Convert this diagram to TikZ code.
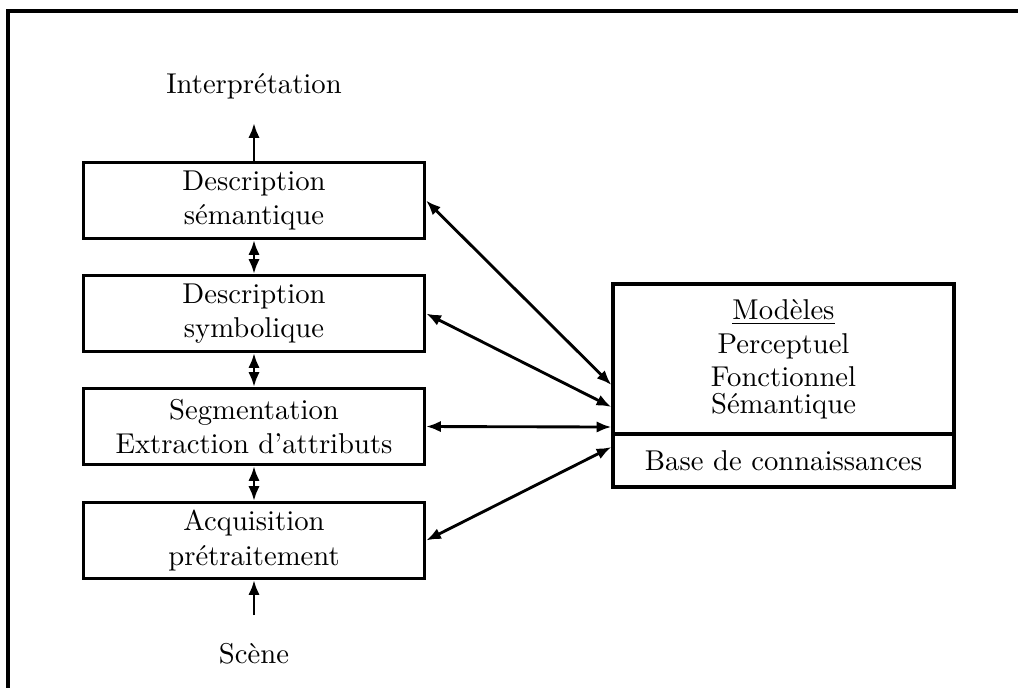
\documentclass[tikz,border=0pt]{standalone}
\usepackage{fontspec}
\usepackage{tikz}
\usetikzlibrary{arrows.meta, positioning, calc}

\tikzset{
  etage/.style={draw, line width=1.1pt, minimum width=119pt, minimum height=26.5pt,
                align=center, inner sep=0pt},
  fleche/.style={line width=1pt, -{Latex[length=5.2pt,width=4pt]}},
  double/.style={line width=1pt, {Latex[length=5.2pt,width=4pt]}-{Latex[length=5.2pt,width=4pt]}}
}

\begin{document}
\begin{tikzpicture}[x=0.349pt, y=-0.349pt]
				\useasboundingbox (0,0) rectangle (1018,687);
				\clip (0,0) rectangle (1018,687);

				% Cadre
				\draw[line width=1.1pt] (8,11) rectangle (1060,740);

				% Pile de traitement
				\node[etage] (sem) at (254,200.5) {Description\\sémantique};
				\node[etage] (sym) at (254,313.5) {Description\\symbolique};
				\node[etage] (seg) at (254,426.5) {Segmentation\\Extraction d'attributs};
				\node[etage] (acq) at (254,540.5) {Acquisition\\prétraitement};

				% Entree / sortie
				\node[anchor=base] (interp) at (254,93) {Interprétation};
				\node[anchor=base] (scene) at (254,663) {Scène};
				\coordinate (haut) at (254,123);
				\coordinate (bas) at (254,615);
				\draw[fleche] (sem.north) -- (haut);
				\draw[fleche] (bas) -- (acq.south);

				% Liaisons verticales
				\draw[double] (sem.south) -- (sym.north);
				\draw[double] (sym.south) -- (seg.north);
				\draw[double] (seg.south) -- (acq.north);

				% Modeles et base
				\node[etage, minimum height=52.4pt] (modeles) at (783.5,359) {};
				\node[etage, minimum height=18.5pt] (base) at (783.5,460.5) {};
				\node[anchor=base] (titre) at (783.5,319) {\underline{Modèles}};
				\node[anchor=base] (percep) at (783.5,353) {Perceptuel};
				\node[anchor=base] (fonct) at (783.5,386) {Fonctionnel};
				\node[anchor=base] (seman) at (783.5,413) {Sémantique};
				\node[anchor=base] (conn) at (783.5,470) {Base de connaissances};

				% Points d'arrivee
				\coordinate (m1) at (modeles.west |- 0,385);
				\coordinate (m2) at (modeles.west |- 0,407);
				\coordinate (m3) at (modeles.west |- 0,427);
				\coordinate (m4) at (base.west |- 0,447);

				\draw[double] (sem.east) -- (m1);
				\draw[double] (sym.east) -- (m2);
				\draw[double] (seg.east) -- (m3);
				\draw[double] (acq.east) -- (m4);
\end{tikzpicture}
\end{document}
